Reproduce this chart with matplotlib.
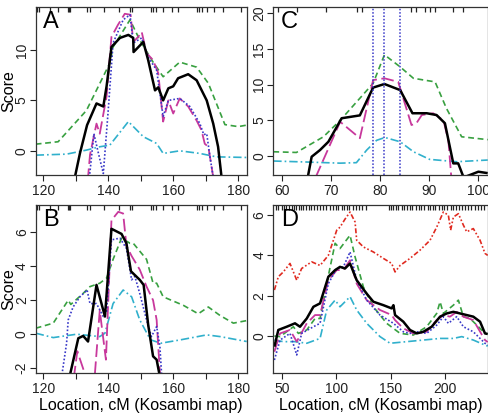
import matplotlib
matplotlib.use("Agg")
import matplotlib.pyplot as plt
import matplotlib.transforms as mtransforms

plt.rcParams['font.family'] = ['Liberation Sans', 'DejaVu Sans']

# ---------------- Panel A ----------------
A_green_x = [117.7, 124.6, 133.3, 140.5, 141.5, 146.7, 149.7, 153.8, 156.9, 162.0, 167.2, 170.8, 175.9, 180.0, 182.6]
A_green_y = [0.66, 0.9, 4.0, 8.7, 10.3, 13.0, 11.0, 8.8, 7.35, 8.8, 8.3, 6.7, 2.6, 2.4, 2.55]
A_cyan_x = [117.7, 127.2, 133.3, 137.4, 140.5, 146.2, 150.8, 154.9, 156.9, 162.0, 168.2, 173.3, 182.6]
A_cyan_y = [-0.43, -0.33, 0.07, 0.4, 0.56, 2.9, 1.4, 0.73, -0.26, 0.0, -0.26, -0.6, -0.66]
A_black_x = [129.5, 131.3, 133.5, 136.4, 138.5, 139.5, 141.0, 143.6, 146.2, 147.7, 147.8, 150.8, 152.3, 154.4, 155.4, 156.9, 158.5, 160.0, 161.5, 164.6, 167.2, 170.3, 172.3, 173.8, 175.0]
A_black_y = [-3.0, -0.26, 2.55, 4.7, 4.4, 6.4, 10.3, 11.2, 11.5, 11.2, 9.8, 10.8, 9.0, 6.0, 6.3, 5.0, 6.2, 6.4, 7.2, 7.6, 7.0, 5.0, 2.7, 0.4, -3.0]
A_mag_x = [133.7, 134.4, 136.4, 137.4, 139.5, 141.0, 143.0, 145.1, 146.9, 147.7, 149.2, 150.3, 151.8, 153.8, 155.4, 156.9, 158.5, 160.0, 162.0, 164.6, 167.2, 168.7, 169.7, 170.8, 172.5]
A_mag_y = [-3.0, -0.4, 2.7, 1.7, 5.4, 11.3, 12.5, 13.6, 13.5, 10.8, 11.3, 11.8, 9.7, 9.0, 7.7, 2.9, 5.0, 3.7, 5.2, 4.4, 3.0, 2.05, 0.7, 0.4, -3.0]
A_blue_x = [134.1, 135.6, 137.0, 138.5, 140.0, 141.5, 144.6, 146.7, 147.7, 150.3, 152.3, 154.9, 156.9, 158.5, 162.0, 165.1, 168.2, 169.4, 170.3, 171.3, 172.5]
A_blue_y = [-3.0, 1.7, -0.26, -2.25, 4.0, 10.7, 13.0, 13.5, 10.7, 11.2, 9.3, 8.0, 3.4, 5.0, 5.2, 4.4, 2.7, 1.6, 1.7, -0.6, -3.0]
A_rug = [118.2, 118.7, 122.1, 124.6, 127.5, 128.0, 128.4, 133.5, 134.4, 138.7, 143.4, 146.7, 147.2,
         153.3, 153.8, 154.6, 156.9, 159.5, 161.5, 167.2, 167.9, 168.7, 170.3, 172.5, 175.4, 181.0]

# ---------------- Panel B ----------------
B_green_x = [117.7, 123.1, 127.7, 128.5, 132.3, 134.4, 137.4, 139.5, 141.5, 144.1, 146.7, 147.7, 151.8, 153.8, 154.9, 156.9, 163.1, 167.7, 170.8, 174.4, 178.5, 182.6]
B_green_y = [0.35, 0.65, 2.0, 1.75, 2.4, 2.8, 3.0, 3.3, 4.4, 5.65, 5.35, 5.35, 4.4, 3.0, 3.0, 2.2, 1.7, 1.2, 1.6, 1.1, 0.65, 0.8]
B_cyan_x = [117.7, 123.1, 130.3, 137.4, 139.0, 141.5, 144.6, 147.2, 149.7, 153.0, 156.2, 162.3, 170.3, 174.4, 182.6]
B_cyan_y = [0.06, -0.2, 0.0, -0.14, 0.06, 1.8, 2.6, 2.2, 0.84, -0.33, -0.53, -0.33, -0.04, -0.14, -0.43]
B_black_x = [128.0, 130.8, 132.3, 133.8, 136.4, 139.0, 141.0, 144.1, 145.6, 147.0, 149.7, 150.9, 152.3, 153.8, 154.9, 156.0]
B_black_y = [-2.6, -0.24, -0.1, -0.43, 2.9, 1.04, 6.2, 5.9, 5.35, 3.7, 3.2, 2.9, 0.55, -1.3, -1.5, -2.6]
B_mag_x = [129.4, 130.5, 133.3, 135.8, 137.4, 139.3, 141.0, 143.1, 144.6, 145.6, 147.2, 149.7, 151.8, 153.8, 154.9, 156.0]
B_mag_y = [-2.6, -1.0, -2.6, -2.6, 1.4, -1.5, 6.7, 7.2, 7.1, 5.2, 4.6, 3.8, 2.8, 2.0, 0.84, -2.6]
B_blue_x = [125.6, 127.2, 127.7, 129.2, 131.3, 133.5, 134.4, 136.4, 138.5, 139.5, 141.0, 143.6, 145.6, 147.2, 148.2, 149.7, 151.8, 153.3, 154.9, 155.9, 156.5]
B_blue_y = [-2.6, -0.53, 0.84, 1.6, 2.2, 2.6, 1.8, 1.8, 1.04, 1.3, 5.55, 5.65, 5.05, 3.2, 3.4, 2.4, 0.84, -0.14, 0.45, -0.73, -2.6]

# ---------------- Panel C ----------------
C_green_x = [58.3, 63.0, 68.5, 71.9, 75.9, 78.6, 80.9, 84.1, 86.8, 91.2, 93.5, 96.6, 101.9]
C_green_y = [0.6, 0.5, 2.7, 5.0, 8.1, 10.2, 14.2, 12.5, 10.9, 10.4, 6.7, 2.7, 2.3]
C_cyan_x = [58.3, 65.1, 71.9, 75.2, 77.3, 79.3, 81.0, 84.1, 86.8, 90.1, 95.6, 101.9]
C_cyan_y = [-0.7, -0.84, -1.0, -0.93, 0.84, 2.2, 2.6, 2.0, 0.6, -0.47, -0.8, -0.56]
C_black_x = [65.3, 66.1, 67.8, 69.5, 72.2, 75.9, 78.6, 80.9, 84.1, 86.6, 89.5, 91.5, 93.2, 94.9, 95.9, 97.0, 98.5, 100.0, 101.9]
C_black_y = [-3.0, -0.1, 0.84, 2.0, 5.3, 5.7, 9.6, 10.1, 9.25, 6.0, 6.0, 5.75, 4.6, -1.03, -1.03, -3.0, -2.6, -2.2, -2.4]
C_mag_x = [66.9, 71.9, 75.9, 78.6, 80.9, 83.7, 86.4, 87.4, 88.5, 90.8, 92.9, 93.9, 94.5]
C_mag_y = [-3.0, 4.8, 2.5, 10.65, 10.9, 10.4, 4.35, 4.6, 5.75, 6.0, 5.0, 2.2, -3.0]
C_ci = [78.5, 80.9, 84.0]
C_rug = [59.3, 63.2, 69.1, 75.4, 76.3, 86.4, 87.4, 89.1, 90.1, 91.2, 94.9, 96.9]

# ---------------- Panel D ----------------
D_red_x = [43.3, 46.9, 51.5, 57.6, 63.8, 68.3, 77.5, 85.2, 92.8, 100.5, 103.5, 108.1, 112.7, 117.3, 118.8, 124.9, 134.1, 143.3, 150.9, 154.0, 158.6, 167.7, 176.9, 186.1, 192.2, 198.3, 202.9, 205.0, 207.5, 212.1, 216.7, 219.7, 225.8, 232.0, 236.5, 239.0]
D_red_y = [2.28, 2.94, 3.18, 3.6, 2.77, 3.35, 3.68, 3.5, 4.0, 5.25, 5.4, 5.8, 6.15, 5.66, 4.75, 4.42, 4.17, 3.85, 3.6, 3.18, 3.5, 3.85, 4.26, 4.75, 5.4, 6.15, 6.0, 5.25, 5.9, 6.07, 5.5, 5.17, 5.33, 4.75, 4.1, 4.0]
D_green_x = [43.3, 48.5, 60.7, 65.3, 73.0, 80.6, 85.2, 91.3, 99.0, 103.5, 112.7, 117.3, 124.9, 134.1, 146.3, 158.6, 170.8, 183.0, 192.2, 195.3, 198.3, 207.5, 212.1, 216.7, 222.8, 229.0, 236.5, 239.0]
D_green_y = [0.0, -0.03, 0.46, 0.13, 0.3, 0.87, 0.87, 2.6, 4.6, 4.34, 5.0, 3.93, 2.44, 1.45, 0.63, 0.13, 0.05, 0.46, 1.12, 1.7, 1.12, 1.53, 1.78, 0.96, 0.87, 0.54, 0.13, 0.1]
D_black_x = [43.3, 46.9, 54.6, 62.2, 66.8, 73.0, 79.1, 85.2, 92.8, 99.0, 103.5, 108.1, 112.7, 118.8, 128.0, 134.1, 143.3, 150.9, 152.5, 154.0, 161.6, 167.7, 173.9, 180.0, 187.6, 195.3, 201.4, 207.5, 213.6, 219.7, 225.8, 232.0, 236.5, 239.0]
D_black_y = [-0.53, 0.3, 0.46, 0.63, 0.46, 0.87, 1.45, 1.62, 2.94, 3.27, 3.43, 3.35, 3.6, 2.77, 2.1, 1.7, 1.53, 1.37, 1.53, 1.04, 0.71, 0.3, 0.13, 0.21, 0.46, 0.96, 1.12, 1.2, 1.12, 1.04, 0.96, 0.71, 0.13, 0.1]
D_mag_x = [43.3, 48.5, 57.6, 63.8, 73.0, 80.6, 85.2, 92.8, 100.5, 106.6, 112.7, 118.8, 128.0, 140.2, 150.9, 154.0, 161.6, 170.8, 183.0, 192.2, 198.3, 204.4, 210.6, 216.7, 225.8, 236.5, 239.0]
D_mag_y = [-0.78, 0.13, 0.3, -0.28, 0.63, 1.04, 1.04, 2.77, 3.27, 3.27, 3.76, 2.6, 1.78, 1.29, 1.04, 0.79, 0.38, 0.13, 0.21, 0.79, 1.04, 0.96, 1.2, 0.96, 0.79, -0.2, -0.3]
D_blue_x = [43.3, 48.5, 57.6, 63.8, 68.3, 79.1, 85.2, 92.8, 100.5, 106.6, 112.7, 118.8, 128.0, 140.2, 152.5, 161.6, 167.7, 173.9, 183.0, 192.2, 198.3, 202.9, 210.6, 216.7, 225.8, 236.5, 239.0]
D_blue_y = [-1.19, -0.2, 0.13, -0.94, 0.13, 0.46, 0.63, 2.6, 3.35, 3.43, 4.17, 2.77, 1.78, 1.04, 0.63, 0.21, 0.13, 0.21, 0.13, 0.54, 0.96, 0.63, 0.96, 0.46, 0.21, -0.36, -0.45]
D_cyan_x = [43.3, 51.5, 62.2, 73.0, 85.2, 91.3, 99.0, 103.5, 108.1, 112.7, 118.8, 128.0, 140.2, 149.4, 164.7, 180.0, 195.3, 207.5, 215.2, 225.8, 236.5, 239.0]
D_cyan_y = [-0.2, -0.28, -0.28, -0.36, -0.12, 1.29, 1.78, 1.45, 1.7, 1.95, 1.29, 0.63, -0.03, -0.36, -0.28, -0.2, -0.12, -0.12, -0.03, -0.2, -0.45, -0.5]
D_rug = [45, 47, 50, 52, 54, 57, 59, 61, 63, 66, 68, 70, 72, 75, 77, 80, 82, 85, 88, 91, 94, 97,
         100, 102, 105, 107, 110, 112, 115, 118, 121, 124, 127,
         148, 150, 152, 155, 157, 160, 162, 165, 168, 170, 173, 176, 178, 181, 184, 186, 189, 191,
         194, 197, 199, 202, 205, 207, 210, 213, 215, 218, 221, 224, 227, 230, 233, 236]

BLACK = '#000000'
MAG = '#c8389c'
BLUE = '#3838c8'
GREEN = '#38a040'
CYAN = '#30b0cc'
RED = '#e02a20'

W, H = 489, 413
fig = plt.figure(figsize=(W / 100, H / 100), dpi=100)


def make_ax(l, t, r, b):
    return fig.add_axes([l / W, 1 - b / H, (r - l) / W, (b - t) / H])


axA = make_ax(35.7, 7, 246.7, 175)
axC = make_ax(273.3, 7, 487.7, 175)
axB = make_ax(35.7, 205, 246.7, 373.3)
axD = make_ax(273.3, 205, 487.7, 373.3)


def style(ax, xlim, ylim, xt, xtl, yt, letter, rug):
    ax.set_xlim(*xlim)
    ax.set_ylim(*ylim)
    ax.set_xticks(xt)
    ax.set_xticklabels(xtl)
    ax.set_yticks(yt)
    ax.set_yticklabels([str(v) for v in yt], rotation=90, va='center')
    ax.tick_params(direction='out', length=4.5, width=0.8, labelsize=10, colors='#222222', pad=2)
    ax.tick_params(axis='y', pad=0.5)
    for s in ax.spines.values():
        s.set_linewidth(0.9)
        s.set_color('#333333')
    ax.text(0.035, 0.975, letter, transform=ax.transAxes, fontsize=17, va='top', ha='left')
    trans = mtransforms.blended_transform_factory(ax.transData, ax.transAxes)
    ax.vlines(rug, 0.97, 1.0, transform=trans, color='#222222', lw=0.9, clip_on=False)


def lines(ax, sets):
    for x, y, c, ls, lw in sets:
        ax.plot(x, y, color=c, lw=lw, dashes=ls, solid_capstyle='butt')


G = (3.5, 2.2)
M = (7, 2.5)
Bd = (1, 1.2)
Cd = (5, 1.8, 1, 1.8)
Rd = (3, 1.3, 1, 1.3, 1, 1.3)

lines(axA, [
    (A_green_x, A_green_y, GREEN, G, 1.2),
    (A_cyan_x, A_cyan_y, CYAN, Cd, 1.2),
    (A_mag_x, A_mag_y, MAG, M, 1.3),
    (A_blue_x, A_blue_y, BLUE, Bd, 1.2),
    (A_black_x, A_black_y, BLACK, (), 1.8),
])
style(axA, (117.7, 182.6), (-2.4, 14.27), [120, 130, 140, 150, 160, 170, 180],
      ['120', '', '140', '', '160', '', '180'], [0, 5, 10], 'A', A_rug)
axA.set_ylabel('Score', fontsize=11.5)
axA.yaxis.set_label_coords(-0.09, 0.5)

lines(axB, [
    (B_green_x, B_green_y, GREEN, G, 1.2),
    (B_cyan_x, B_cyan_y, CYAN, Cd, 1.2),
    (B_mag_x, B_mag_y, MAG, M, 1.3),
    (B_blue_x, B_blue_y, BLUE, Bd, 1.2),
    (B_black_x, B_black_y, BLACK, (), 1.8),
])
style(axB, (117.7, 182.6), (-2.3, 7.6), [120, 130, 140, 150, 160, 170, 180],
      ['120', '', '140', '', '160', '', '180'], [-2, 0, 2, 4, 6], 'B', A_rug)
axB.set_ylabel('Score', fontsize=11.5)
axB.yaxis.set_label_coords(-0.09, 0.5)
axB.set_xlabel('Location, cM (Kosambi map)', fontsize=11.5, labelpad=1)

lines(axC, [
    (C_green_x, C_green_y, GREEN, G, 1.2),
    (C_cyan_x, C_cyan_y, CYAN, Cd, 1.2),
    (C_mag_x, C_mag_y, MAG, M, 1.3),
    (C_black_x, C_black_y, BLACK, (), 1.8),
])
for v in C_ci:
    axC.axvline(v, color=BLUE, lw=1.1, dashes=Bd)
style(axC, (58.3, 101.9), (-2.66, 20.9), [60, 70, 80, 90, 100],
      ['60', '70', '80', '90', '100'], [0, 5, 10, 15, 20], 'C', C_rug)

lines(axD, [
    (D_red_x, D_red_y, RED, Rd, 1.2),
    (D_green_x, D_green_y, GREEN, G, 1.2),
    (D_cyan_x, D_cyan_y, CYAN, Cd, 1.2),
    (D_mag_x, D_mag_y, MAG, M, 1.3),
    (D_blue_x, D_blue_y, BLUE, Bd, 1.2),
    (D_black_x, D_black_y, BLACK, (), 1.8),
])
style(axD, (42.3, 239), (-1.85, 6.5), [50, 100, 150, 200],
      ['50', '100', '150', '200'], [0, 2, 4, 6], 'D', D_rug)
axD.set_xlabel('Location, cM (Kosambi map)', fontsize=11.5, labelpad=1)

fig.savefig('out.png', dpi=100)
